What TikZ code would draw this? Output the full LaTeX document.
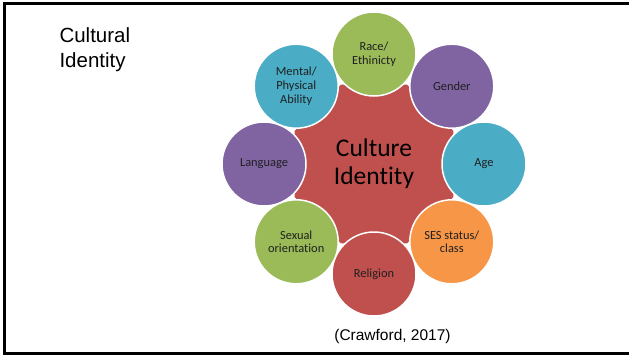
\documentclass[tikz,border=0pt]{standalone}
\usepackage{fontspec}
\setmainfont{Liberation Sans}
\newfontfamily\calibri[Ligatures=NoCommon]{Carlito}
\usetikzlibrary{shapes.geometric}

\definecolor{leaf}{HTML}{9BBB59}
\definecolor{plum}{HTML}{8064A2}
\definecolor{aqua}{HTML}{4BACC6}
\definecolor{peach}{HTML}{F79646}
\definecolor{brick}{HTML}{C0504D}

\tikzset{
  bubble/.style={circle, draw=white, line width=1.5pt, minimum size=84pt,
    inner sep=0pt, align=center, text=black!88,
    font=\calibri\fontsize{12.4}{13.6}\selectfont},
  hub/.style={regular polygon, regular polygon sides=8, minimum size=172pt,
    inner sep=0pt, fill=brick, align=center,
    font=\calibri\fontsize{25.5}{28}\selectfont}
}

\begin{document}
\begin{tikzpicture}[x=1pt, y=-1pt]
  \useasboundingbox (0,0) rectangle (629,356);
  % frame
  \draw[line width=3pt] (629,3.5) -- (4.5,3.5) -- (4.5,353) -- (629,353);

  \node[anchor=base west, align=left, font=\fontsize{20.5}{24.5}\selectfont]
    (title) at (56,67) {Cultural\\Identity};

  \node[hub] (core) at (374,164) {Culture\\Identity};

  \node[bubble, fill=leaf] (race) at (374,54) {Race/\\Ethinicty};
  \node[bubble, fill=plum] (gender) at (451.8,86.2) {Gender};
  \node[bubble, fill=aqua] (age) at (484,164) {Age};
  \node[bubble, fill=peach] (ses) at (451.8,241.8) {SES status/\\class};
  \node[bubble, fill=brick] (religion) at (374,274) {Religion};
  \node[bubble, fill=leaf] (sexual) at (296.2,241.8) {Sexual\\orientation};
  \node[bubble, fill=plum] (language) at (264,164) {Language};
  \node[bubble, fill=aqua] (mental) at (296.2,86.2) {Mental/\\Physical\\Ability};

  \node[anchor=base, font=\fontsize{15.5}{18}\selectfont]
    (cite) at (392.5,340) {(Crawford, 2017)};
\end{tikzpicture}
\end{document}
